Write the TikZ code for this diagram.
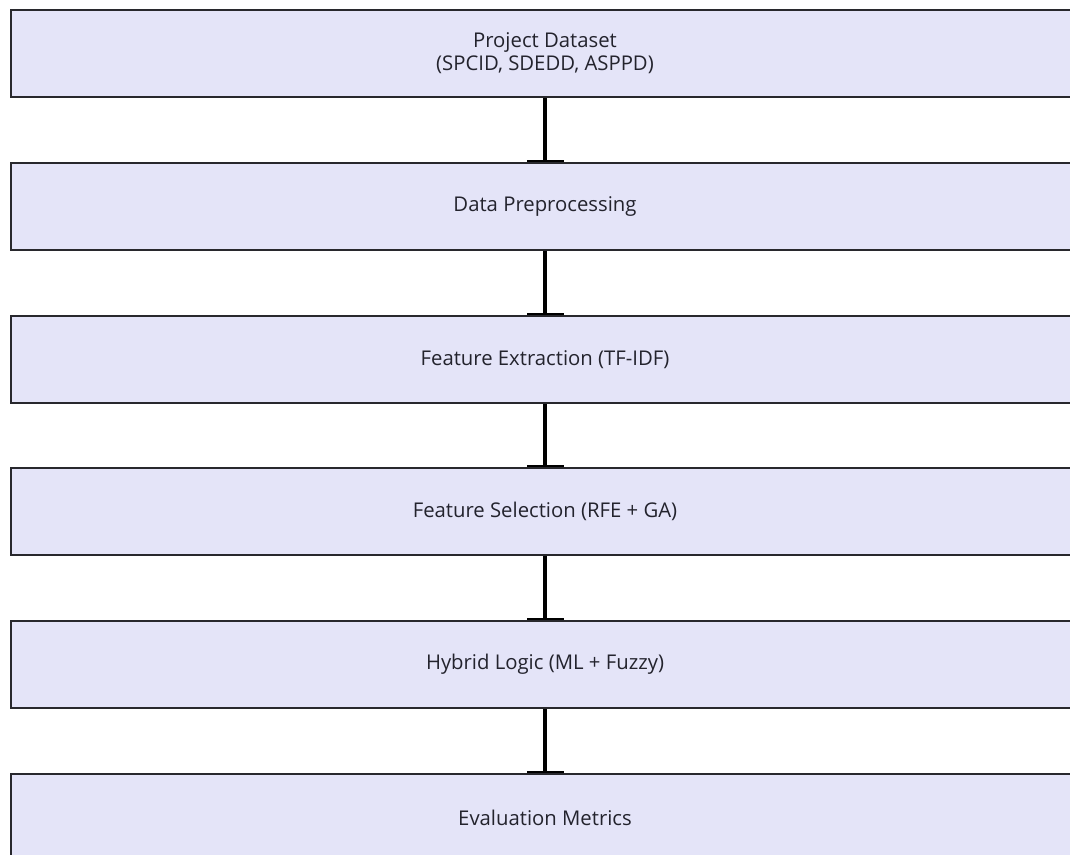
\documentclass[tikz,border=0pt]{standalone}
\usepackage{fontspec}
\setmainfont{Open Sans}
\usetikzlibrary{arrows.meta}
\definecolor{boxfill}{RGB}{228,228,248}
\definecolor{boxline}{RGB}{40,40,45}
\definecolor{txt}{RGB}{35,35,45}
\begin{document}
\begin{tikzpicture}[x=1pt,y=-1pt,
  stepbox/.style={draw=boxline,line width=2pt,fill=boxfill,minimum width=1100pt,minimum height=87pt,
    inner sep=0pt,anchor=north west},
  steptext/.style={text=txt,font=\fontsize{20.3}{23}\selectfont,align=center,xshift=-16pt},
  link/.style={line width=4pt,-{Bar[width=37pt,line width=2pt]}}]
\useasboundingbox (0,0) rectangle (1070,854);
\node[stepbox,label={[steptext]center:Project Dataset\\(SPCID, SDEDD, ASPPD)}] (b1) at (10,9) {};
\node[stepbox,label={[steptext]center:Data Preprocessing}] (b2) at (10,162) {};
\node[stepbox,label={[steptext]center:Feature Extraction (TF-IDF)}] (b3) at (10,315) {};
\node[stepbox,label={[steptext]center:Feature Selection (RFE + GA)}] (b4) at (10,467) {};
\node[stepbox,label={[steptext]center:Hybrid Logic (ML + Fuzzy)}] (b5) at (10,620) {};
\node[stepbox,label={[steptext]center:Evaluation Metrics}] (b6) at (10,773) {};
\draw[link] ([xshift=-16pt]b1.south) -- ([xshift=-16pt]b2.north);
\draw[link] ([xshift=-16pt]b2.south) -- ([xshift=-16pt]b3.north);
\draw[link] ([xshift=-16pt]b3.south) -- ([xshift=-16pt]b4.north);
\draw[link] ([xshift=-16pt]b4.south) -- ([xshift=-16pt]b5.north);
\draw[link] ([xshift=-16pt]b5.south) -- ([xshift=-16pt]b6.north);
\end{tikzpicture}
\end{document}
